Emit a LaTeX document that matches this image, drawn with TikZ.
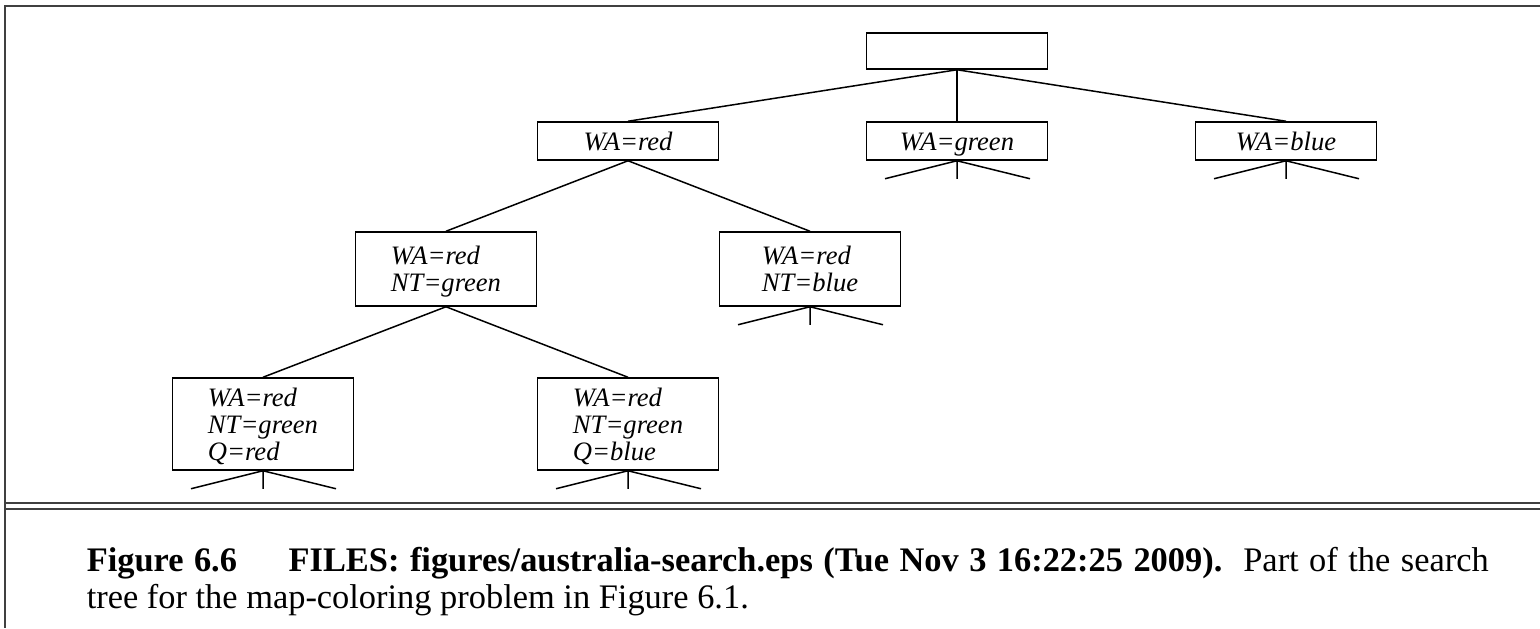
\documentclass[tikz,border=0pt]{standalone}
\usepackage{fontspec}
\setmainfont{Liberation Serif}
\usetikzlibrary{positioning}

\begin{document}
\begin{tikzpicture}[x=0.5pt,y=-0.5pt,line width=0.75pt,
	state/.style={draw,minimum width=90.5pt,minimum height=19pt,inner sep=2pt,
		align=left,font=\fontsize{13.3}{13.6}\selectfont\itshape},
	single/.style={text height=9.5pt,text depth=0.5pt},
	multi/.style={text depth=0pt},
	frame/.style={draw=black!75,line width=1pt}]
	
	\useasboundingbox (0,0) rectangle (1540,628);
	
	\node[state,minimum height=18pt] (root) at (957,51) {};
	\node[state,single] (wr) at (628,141) {WA=red};
	\node[state,single] (wg) at (957,141) {WA=green};
	\node[state,single] (wb) at (1286,141) {WA=blue};
	\node[state,multi,minimum height=37pt] (wrng) at (446,269) {WA=red\\NT=green};
	\node[state,multi,minimum height=37pt] (wrnb) at (810,269) {WA=red\\NT=blue};
	\node[state,multi,minimum height=46pt] (qr) at (263,424) {WA=red\\NT=green\\Q=red};
	\node[state,multi,minimum height=46pt] (qb) at (628,424) {WA=red\\NT=green\\Q=blue};
	
	\path
	(root.south) edge (wr.north)
	(root.south) edge (wg.north)
	(root.south) edge (wb.north)
	(wr.south) edge (wrng.north)
	(wr.south) edge (wrnb.north)
	(wrng.south) edge (qr.north)
	(wrng.south) edge (qb.north);
	
	\foreach \n in {wg,wb,wrnb,qr,qb} {
		\coordinate (\n-l) at ([shift={(-72,18)}]\n.south);
		\coordinate (\n-m) at ([shift={(0,18)}]\n.south);
		\coordinate (\n-r) at ([shift={(73,18)}]\n.south);
		\draw (\n.south) -- (\n-l) (\n.south) -- (\n-m) (\n.south) -- (\n-r);
	}
	
	\draw[frame] (1540,6) -- (5,6) -- (5,628);
	\draw[frame] (5,503) -- (1540,503);
	\draw[frame] (5,509) -- (1540,509);
	
	\node[anchor=base west,text width=701pt,align=justify,inner sep=0pt,
		font=\fontsize{17.2}{18.5}\selectfont] (cap) at (86,571)
		{\textbf{Figure 6.6\hspace{1.5em}FILES: figures/australia-search.eps (Tue Nov 3 16:22:25 2009).}\ \ Part of the search\linebreak
		tree for the map-coloring problem in Figure 6.1.};
\end{tikzpicture}
\end{document}
